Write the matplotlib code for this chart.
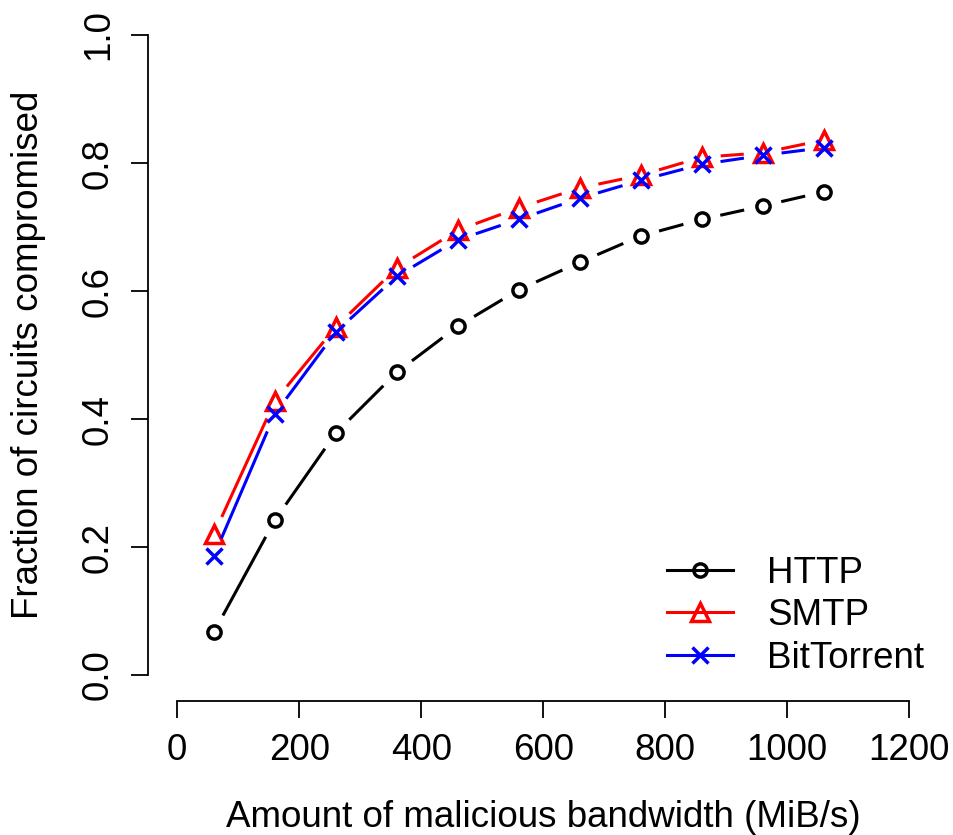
import numpy as np
from matplotlib import pyplot as plt

plt.rcParams['font.family'] = ['Liberation Sans', 'DejaVu Sans']

# Compromised-circuit fractions per amount of malicious bandwidth
bandwidth  = [60, 160, 260, 360, 460, 560, 660, 760, 860, 960, 1060]
http       = [0.067, 0.242, 0.378, 0.473, 0.545, 0.602, 0.645, 0.686, 0.712, 0.733, 0.755]
smtp       = [0.220, 0.428, 0.544, 0.636, 0.695, 0.730, 0.761, 0.781, 0.809, 0.816, 0.836]
bittorrent = [0.186, 0.408, 0.536, 0.623, 0.680, 0.712, 0.745, 0.773, 0.798, 0.812, 0.824]

series = [("HTTP", http, "black", "o", 9.5),
          ("SMTP", smtp, "red", "^", 12.5),
          ("BitTorrent", bittorrent, "blue", "x", 11.5)]

FS  = 26.5
LW  = 2.2
MEW = 2.5
GAP = 19   # pixels left blank around each point, like R's type="b"

fig = plt.figure(figsize=(9.54, 8.35), dpi=100)
ax  = fig.add_axes([0.1551, 0.1609, 0.8285, 0.8278])
ax.set_xlim(-48, 1248)
ax.set_ylim(-0.04, 1.04)

def gapped_line(ax, x, y, color):
    pts = ax.transData.transform(np.column_stack([x, y]))
    inv = ax.transData.inverted()
    for p0, p1 in zip(pts[:-1], pts[1:]):
        d = p1 - p0
        n = np.hypot(*d)
        if n <= 2*GAP:
            continue
        u = d / n
        a, b = inv.transform([p0 + u*GAP, p1 - u*GAP])
        ax.plot([a[0], b[0]], [a[1], b[1]], c=color, lw=LW, solid_capstyle="butt")

for name, vals, col, mk, ms in series:
    gapped_line(ax, bandwidth, vals, col)
    ax.plot(bandwidth, vals, ls="none", marker=mk, ms=ms, mfc="none",
            mec=col, mew=MEW)

# legend handles: full line with marker on top
handles = [ax.plot([], [], c=col, lw=LW, marker=mk, ms=ms, mfc="none",
                   mec=col, mew=MEW)[0] for name, vals, col, mk, ms in series]
ax.legend(handles, [s[0] for s in series], loc="upper left",
          bbox_to_anchor=(667/954, 1 - 556/835), bbox_transform=fig.transFigure,
          frameon=False, fontsize=FS, handlelength=1.8, handletextpad=0.92,
          labelspacing=0.2, borderpad=0, borderaxespad=0)

for s in ["top", "right"]:
    ax.spines[s].set_visible(False)
ax.spines["left"].set_bounds(0, 1)
ax.spines["bottom"].set_bounds(0, 1200)
for s in ["left", "bottom"]:
    ax.spines[s].set_linewidth(1.3)

ax.set_xticks(np.arange(0, 1201, 200))
ax.set_yticks(np.arange(0, 1.01, 0.2))
ax.set_yticklabels([f"{v:.1f}" for v in np.arange(0, 1.01, 0.2)],
                   rotation=90, va="center")
ax.tick_params(direction="out", length=12, width=1.3, labelsize=FS, pad=11)

ax.set_xlabel("Amount of malicious bandwidth (MiB/s)", fontsize=FS, labelpad=23)
ax.set_ylabel("Fraction of circuits compromised", fontsize=FS, labelpad=25)

plt.savefig("out.png", dpi=100)
